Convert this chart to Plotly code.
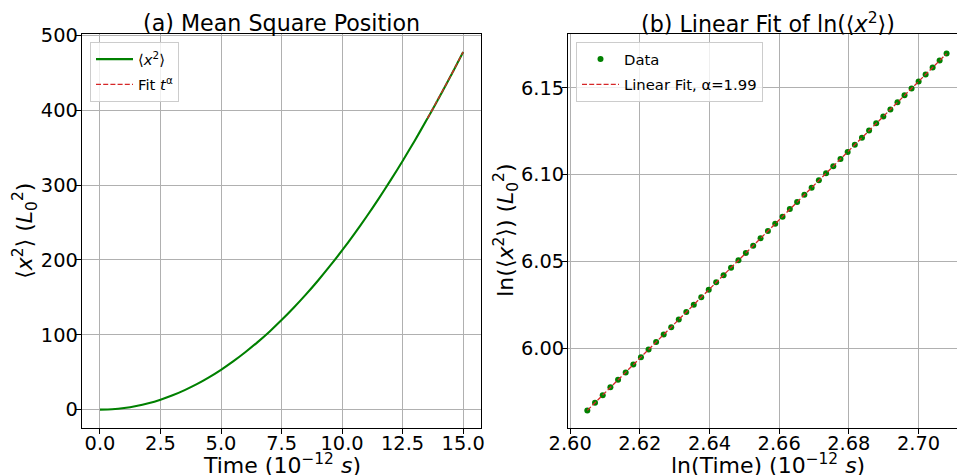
import numpy as np
import plotly.graph_objects as go

# ---------------------------------------------------------------------------
# Data
# ---------------------------------------------------------------------------
# Mean square position <x^2> (units of L0^2) versus time (units of 1e-12 s)
t_early = [0.0, 0.5, 1.0, 1.5, 2.0, 2.5, 3.0, 3.5, 4.0, 4.5, 5.0, 5.5, 6.0, 6.5,
           7.0, 7.5, 8.0, 8.5, 9.0, 9.5, 10.0, 10.5, 11.0, 11.5, 12.0, 12.5,
           13.0, 13.5]
msd_early = [0.0, 0.5, 2.1, 4.8, 8.5, 13.3, 19.1, 26.1, 34.0, 43.1, 53.2, 64.4,
             76.6, 89.9, 104.2, 119.7, 136.2, 153.7, 172.3, 192.0, 212.7, 234.5,
             257.4, 281.3, 306.3, 332.3, 359.4, 387.6]

# Late-time window used for the power-law fit
t_tail = [13.53, 13.56, 13.59, 13.62, 13.65, 13.68, 13.71, 13.74, 13.77, 13.80,
          13.83, 13.86, 13.89, 13.92, 13.95, 13.98, 14.01, 14.04, 14.07, 14.10,
          14.13, 14.16, 14.19, 14.22, 14.25, 14.28, 14.31, 14.34, 14.37, 14.40,
          14.43, 14.46, 14.49, 14.52, 14.55, 14.58, 14.61, 14.64, 14.67, 14.70,
          14.73, 14.76, 14.79, 14.82, 14.85, 14.88, 14.91, 14.94, 14.97, 15.00]
msd_tail = [389.3, 391.0, 392.7, 394.5, 396.2, 397.9, 399.7, 401.4, 403.2, 404.9,
            406.7, 408.4, 410.2, 412.0, 413.7, 415.5, 417.3, 419.1, 420.8, 422.6,
            424.4, 426.2, 428.0, 429.8, 431.6, 433.4, 435.2, 437.1, 438.9, 440.7,
            442.5, 444.4, 446.2, 448.0, 449.9, 451.7, 453.6, 455.4, 457.3, 459.2,
            461.0, 462.9, 464.8, 466.7, 468.5, 470.4, 472.3, 474.2, 476.1, 478.0]

# Fitted exponent of <x^2> ~ t^alpha
alpha = 1.99

# ---------------------------------------------------------------------------
# Derived quantities
# ---------------------------------------------------------------------------
t_all = t_early + t_tail
msd_all = msd_early + msd_tail

ln_t = np.log(np.array(t_tail))
ln_msd = np.log(np.array(msd_tail))
intercept = float(np.mean(ln_msd) - alpha * np.mean(ln_t))
ln_fit = intercept + alpha * ln_t
msd_fit = np.exp(intercept) * np.array(t_tail) ** alpha

# ---------------------------------------------------------------------------
# Figure geometry (pixels)
# ---------------------------------------------------------------------------
W, H = 957, 475
FONT = "DejaVu Sans"
GREEN = "#008000"
RED = "#d62728"
GRID = "#b0b0b0"


def px_x(p):
    return p / W


def px_y(p):
    return 1 - p / H


fig = go.Figure()

# (a) mean square position
fig.add_trace(go.Scatter(
    x=t_all, y=msd_all, mode="lines",
    line=dict(color=GREEN, width=2.1, shape="spline", smoothing=0.6),
    name="⟨<i>x</i><sup>2</sup>⟩", xaxis="x", yaxis="y", legend="legend", legendgroup="a1"))
fig.add_trace(go.Scatter(
    x=t_tail, y=msd_fit, mode="lines", line=dict(color=RED, width=1.3, dash="5px,2.2px"),
    name="Fit <i>t</i><sup>α</sup>", xaxis="x", yaxis="y", legend="legend", legendgroup="a2"))

# (b) log-log linear fit
fig.add_trace(go.Scatter(
    x=ln_t, y=ln_msd, mode="markers", marker=dict(color=GREEN, size=6),
    name="Data", xaxis="x2", yaxis="y2", legend="legend2", legendgroup="b1"))
fig.add_trace(go.Scatter(
    x=ln_t, y=ln_fit, mode="lines", line=dict(color=RED, width=1.3, dash="5px,2.2px"),
    name=f"Linear Fit, α={alpha:.2f}", xaxis="x2", yaxis="y2", legend="legend2",
    legendgroup="b2"))

axis_common = dict(
    showgrid=True, gridcolor=GRID, gridwidth=1.1,
    showline=True, linecolor="black", linewidth=1.1,
    ticks="outside", ticklen=5, tickwidth=1.1, tickcolor="black",
    tickfont=dict(family=FONT, size=19.4, color="black"),
    zeroline=False, automargin=False,
)

y_dom = [px_y(427.5), px_y(34)]

legend_common = dict(
    xanchor="left", yanchor="top",
    bgcolor="rgba(255,255,255,0.8)", bordercolor="#cccccc", borderwidth=1,
    font=dict(family=FONT, size=14.8, color="black"), itemwidth=37,
    tracegroupgap=3,
)

fig.update_layout(
    width=W, height=H,
    margin=dict(l=0, r=0, t=0, b=0),
    paper_bgcolor="white", plot_bgcolor="white",
    font=dict(family=FONT, color="black"),
    xaxis=dict(axis_common, domain=[px_x(81.8), px_x(481.3)], range=[-0.75, 15.75],
               tickmode="array", tickvals=[0, 2.5, 5, 7.5, 10, 12.5, 15],
               ticktext=["0.0", "2.5", "5.0", "7.5", "10.0", "12.5", "15.0"],
               ticklabelstandoff=-7, mirror=True, anchor="y"),
    yaxis=dict(axis_common, domain=y_dom, range=[-23.9, 502.0],
               tickmode="array", tickvals=[0, 100, 200, 300, 400, 500],
               ticklabelstandoff=-6, mirror=True, anchor="x"),
    xaxis2=dict(axis_common, domain=[px_x(568), 1.0], range=[2.59937, 2.71104],
                tickmode="array", tickvals=[2.60, 2.62, 2.64, 2.66, 2.68, 2.70],
                ticktext=["2.60", "2.62", "2.64", "2.66", "2.68", "2.70"],
                ticklabelstandoff=-7, mirror=True, anchor="y2"),
    yaxis2=dict(axis_common, domain=y_dom, range=[5.9545, 6.1809],
                tickmode="array", tickvals=[6.00, 6.05, 6.10, 6.15],
                ticktext=["6.00", "6.05", "6.10", "6.15"],
                ticklabelstandoff=-6, mirror=False, anchor="x2"),
    legend=dict(legend_common, x=px_x(90), y=px_y(42)),
    legend2=dict(legend_common, x=px_x(576), y=px_y(42)),
    showlegend=True,
)

annotations = [
    # subplot titles
    dict(text="(a) Mean Square Position", x=px_x(281.5), y=px_y(23), xref="paper", yref="paper",
         xanchor="center", yanchor="middle", showarrow=False, font=dict(family=FONT, size=22.2)),
    dict(text="(b) Linear Fit of ln(⟨<i>x</i><sup>2</sup>⟩)", x=px_x(767.5), y=px_y(23),
         xref="paper", yref="paper", xanchor="center", yanchor="middle", showarrow=False,
         font=dict(family=FONT, size=22.2)),
    # axis titles
    dict(text="Time (10<sup>−12</sup> <i>s</i>)", x=px_x(281.5), y=px_y(464), xref="paper",
         yref="paper", xanchor="center", yanchor="middle", showarrow=False,
         font=dict(family=FONT, size=22)),
    dict(text="ln(Time) (10<sup>−12</sup> <i>s</i>)", x=px_x(767.5), y=px_y(464), xref="paper",
         yref="paper", xanchor="center", yanchor="middle", showarrow=False,
         font=dict(family=FONT, size=22)),
    dict(text="⟨<i>x</i><sup>2</sup>⟩ (<i>L</i><sub>0</sub><sup>2</sup>)", x=px_x(25),
         y=px_y(230.75), xref="paper", yref="paper", xanchor="center", yanchor="middle",
         textangle=-90, showarrow=False, font=dict(family=FONT, size=22)),
    dict(text="ln(⟨<i>x</i><sup>2</sup>⟩) (<i>L</i><sub>0</sub><sup>2</sup>)", x=px_x(506),
         y=px_y(230.75), xref="paper", yref="paper", xanchor="center", yanchor="middle",
         textangle=-90, showarrow=False, font=dict(family=FONT, size=22)),
]
fig.update_layout(annotations=annotations)

fig.write_html("out.html")
